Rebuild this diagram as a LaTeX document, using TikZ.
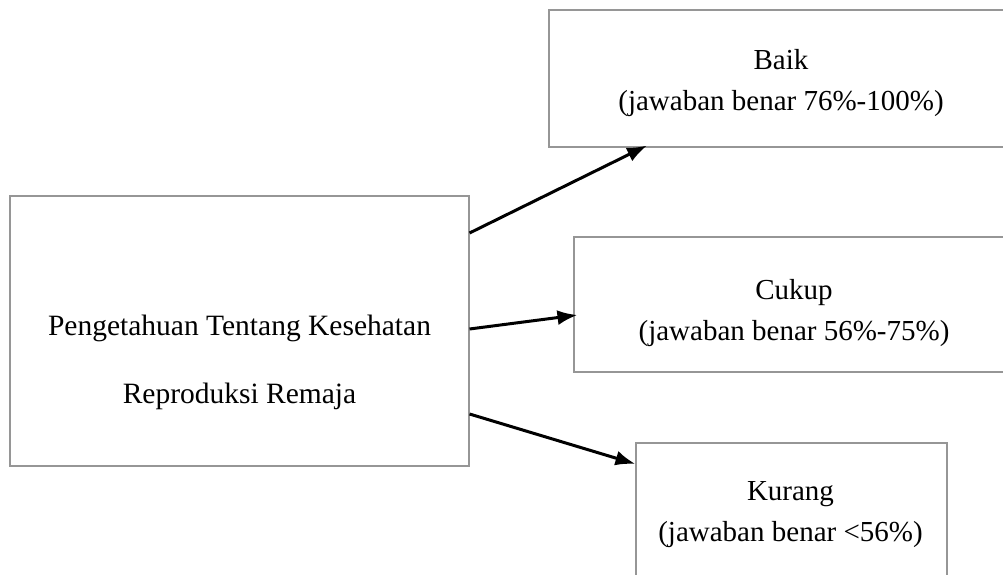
\documentclass[tikz,border=0pt]{standalone}
\usepackage{fontspec}
\setmainfont{Liberation Serif}
\usetikzlibrary{arrows.meta}
\definecolor{boxgray}{RGB}{150,150,150}

\begin{document}
\begin{tikzpicture}[x=1pt,y=1pt,
		kotak/.style={draw=boxgray,line width=1.1pt,rectangle,inner sep=0pt},
		teksbesar/.style={align=center,inner sep=0pt,font=\fontsize{29.5}{68}\selectfont},
		tekskecil/.style={align=center,inner sep=0pt,font=\fontsize{29}{41}\selectfont},
		panah/.style={-{Latex[length=20pt,width=15pt]},line width=3pt}]
				\useasboundingbox (0,0) rectangle (1003,574);
				% kotak-kotak
				\node[kotak,minimum width=459,minimum height=270] (main) at (239.5,243) {};
				\node[kotak,minimum width=461,minimum height=137] (baik) at (779.5,495.5) {};
				\node[kotak,minimum width=436,minimum height=135] (cukup) at (792,269.5) {};
				\node[kotak,minimum width=311,minimum height=157] (kurang) at (791.5,52.5) {};
				% teks
				\node[teksbesar] (main-t) at (239.5,211.8) {Pengetahuan Tentang Kesehatan\\Reproduksi Remaja};
				\node[tekskecil] (baik-t) at (781,491.3) {Baik\\(jawaban benar 76\%-100\%)};
				\node[tekskecil] (cukup-t) at (794,261) {Cukup\\(jawaban benar 56\%-75\%)};
				\node[tekskecil] (kurang-t) at (790.5,59) {Kurang\\(jawaban benar <56\%)};
				% panah
				\draw[panah] ([yshift=98]main.east) -- ([xshift=-132.5,yshift=2]baik.south);
				\draw[panah] ([yshift=2]main.east) -- ([xshift=4,yshift=-10.5]cukup.west);
				\draw[panah] ([yshift=-83]main.east) -- ([yshift=57.5]kurang.west);
			\end{tikzpicture}
\end{document}
